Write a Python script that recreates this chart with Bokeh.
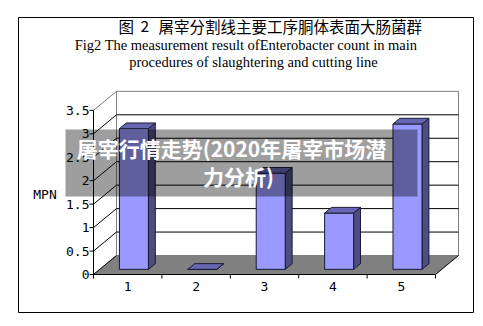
from bokeh.plotting import figure
from bokeh.models import Range1d
from bokeh.core.properties import value
from bokeh.embed import file_html
from bokeh.resources import INLINE

# ---- data ----
categories = ["1", "2", "3", "4", "5"]
mpn = [3.0, 0.0, 2.05, 1.2, 3.1]
y_ticks = [0, 0.5, 1, 1.5, 2, 2.5, 3, 3.5]
y_tick_labels = ["0", "0.5", "1", "1.5", "2", "2.5", "3", "3.5"]
y_axis_title = "MPN"
title_cn_fig = "图"
title_cn_num = "2"
title_cn = "屠宰分割线主要工序胴体表面大肠菌群"
title_en_1 = "Fig2 The measurement result ofEnterobacter count in main"
title_en_2 = "procedures of slaughtering and cutting line"
watermark_1 = "屠宰行情走势(2020年屠宰市场潜"
watermark_2 = "力分析)"

# ---- layout (pixel geometry of the 3-D frame) ----
W, H = 483, 326
PX_CAT = 68.4      # pixels per category
PX_UNIT = 46.9     # pixels per MPN unit
OX, OY = 93, 274   # pixel position of (category 0.5, value 0)
X0 = 0.5
YMAX = 3.5
n = len(categories)
DX = 23 / PX_CAT   # wall depth, category units
DY = 19 / PX_UNIT  # wall depth, value units
F0, F1 = 0.27, 0.57  # bar front/back depth fractions
BW = 29 / PX_CAT   # bar width


def sx(px):
    return X0 + (px - OX) / PX_CAT


def sy(py):
    return (OY - py) / PX_UNIT


p = figure(width=W, height=H, output_backend="svg", toolbar_location=None,
           min_border=0, x_axis_location=None, y_axis_location=None,
           x_range=Range1d(sx(0), sx(W)), y_range=Range1d(sy(H), sy(0)))
p.grid.visible = False
p.outline_line_color = None
p.background_fill_color = "white"
p.border_fill_color = "white"

XL, XR = X0, X0 + n
# floor
p.patch([XL, XR, XR + DX, XL + DX], [0, 0, DY, DY], fill_color="#808080",
        line_color=None)
# back wall
p.quad(left=[XL + DX], right=[XR + DX], bottom=[DY], top=[YMAX + DY],
       fill_color="white", line_color="#808080", line_width=1)
# left wall
p.patch([XL, XL + DX, XL + DX, XL], [0, DY, YMAX + DY, YMAX],
        fill_color="white", line_color="#808080", line_width=1)
# grid lines
grid_vals = [v for v in y_ticks if 0 < v < YMAX]
p.segment(x0=[XL + DX] * len(grid_vals), y0=[v + DY for v in grid_vals],
          x1=[XR + DX] * len(grid_vals), y1=[v + DY for v in grid_vals],
          line_color="black", line_width=1)
diag_vals = [v for v in y_ticks if v < YMAX]
p.segment(x0=[XL] * len(diag_vals), y0=diag_vals,
          x1=[XL + DX] * len(diag_vals), y1=[v + DY for v in diag_vals],
          line_color="black", line_width=1)
p.segment(x0=[XR], y0=[0], x1=[XR + DX], y1=[DY], line_color="black")

# bars
cx = [i + 1 for i in range(n)]
fl = [c - BW / 2 + F0 * DX for c in cx]
fr = [c + BW / 2 + F0 * DX for c in cx]
fb = F0 * DY
bdx = (F1 - F0) * DX
bdy = (F1 - F0) * DY
side_xs = [[r, r + bdx, r + bdx, r] for r in fr]
side_ys = [[fb, fb + bdy, v + fb + bdy, v + fb] for v in mpn]
top_xs = [[l, r, r + bdx, l + bdx] for l, r in zip(fl, fr)]
top_ys = [[v + fb, v + fb, v + fb + bdy, v + fb + bdy] for v in mpn]
p.patches(side_xs, side_ys, fill_color="#4D4D80", line_color="#1a1a33",
          line_width=1)
p.quad(left=fl, right=fr, bottom=[fb] * n, top=[v + fb for v in mpn],
       fill_color="#9999FF", line_color="#1a1a33", line_width=1)
p.patches(top_xs, top_ys, fill_color="#6666B3", line_color="#1a1a33",
          line_width=1)

# axes
p.segment(x0=[XL], y0=[0], x1=[XR], y1=[0], line_color="black")
p.segment(x0=[XL], y0=[0], x1=[XL], y1=[YMAX], line_color="black")
tick_y = 4 / PX_UNIT
bounds = [X0 + i for i in range(n + 1)]
p.segment(x0=bounds, y0=[0] * len(bounds), x1=bounds,
          y1=[-tick_y] * len(bounds), line_color="black")
tick_x = 4 / PX_CAT
p.segment(x0=[XL - tick_x] * len(y_ticks), y0=y_ticks,
          x1=[XL] * len(y_ticks), y1=y_ticks, line_color="black")

mono = value("DejaVu Sans Mono")
p.text(x=[XL - 4 / PX_CAT] * len(y_ticks), y=y_ticks, text=y_tick_labels,
       text_font=mono, text_font_size="13px", text_align="right",
       text_baseline="middle", text_color="black")
p.text(x=cx, y=[-12 / PX_UNIT] * n, text=categories, text_font=mono,
       text_font_size="13px", text_align="center", text_baseline="middle",
       text_color="black")
p.text(x=[sx(44.5)], y=[sy(193.5)], text=[y_axis_title], text_font=mono,
       text_font_size="13px", text_align="center", text_baseline="middle",
       text_color="black")

# titles
cjk = value("Noto Sans CJK SC")
p.text(x=[sx(118), sx(140), sx(158)], y=[sy(25)] * 3,
       text=[title_cn_fig, title_cn_num, title_cn], text_font=cjk,
       text_font_size="15.5px", text_align="left", text_baseline="middle",
       text_color="black")
serif = value("Liberation Serif")
p.text(x=[sx(245.5), sx(253)], y=[sy(44), sy(61)],
       text=[title_en_1, title_en_2], text_font=serif,
       text_font_size="14.5px", text_align="center", text_baseline="middle",
       text_color="black")

# outer border
p.quad(left=[sx(18)], right=[sx(473)], bottom=[sy(312)], top=[sy(17)],
       fill_color=None, line_color="black", line_width=1)

# watermark
p.quad(left=[sx(65)], right=[sx(417)], bottom=[sy(196)], top=[sy(129)],
       fill_color="black", fill_alpha=0.38, line_color=None)
p.text(x=[sx(231), sx(238)], y=[sy(147), sy(175)],
       text=[watermark_1, watermark_2], text_font=cjk,
       text_font_size="21px", text_font_style="bold", text_align="center",
       text_baseline="middle", text_color="white")

open("out.html", "w").write(file_html(p, INLINE))
